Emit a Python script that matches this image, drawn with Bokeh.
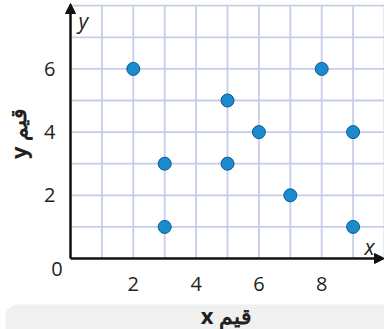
from bokeh.plotting import figure
from bokeh.models import FixedTicker, Label, Arrow, NormalHead, BoxAnnotation, Range1d
from bokeh.embed import file_html
from bokeh.resources import INLINE

# data
x_values = [2, 3, 3, 5, 5, 6, 7, 8, 9, 9]
y_values = [6, 3, 1, 5, 3, 4, 2, 6, 4, 1]
x_ticks = [2, 4, 6, 8]
y_ticks = [2, 4, 6]
grid_x = list(range(1, 11))
grid_y = list(range(1, 9))
x_max, y_max = 10, 8
x_title = "x قيم"
y_title = "y قيم"

PX = 31.4   # pixels per x unit
PY = 31.6   # pixels per y unit
W, H = 384, 329
X0, Y0 = 70, 258  # pixel position of origin

p = figure(width=W, height=H, output_backend="svg", toolbar_location=None,
           x_range=Range1d(-X0 / PX, (W - X0) / PX),
           y_range=Range1d(-(H - Y0) / PY, Y0 / PY),
           min_border=0)
p.outline_line_color = None
p.background_fill_color = "white"
p.border_fill_color = "white"
p.xgrid.visible = False
p.ygrid.visible = False

# gray band behind x title
band = BoxAnnotation(left=-(X0 - 5) / PX, right=x_max + 1, bottom=-5, top=-(304 - Y0) / PY,
                     fill_color="#f0f0f0", fill_alpha=1.0, line_color=None,
                     border_radius=12, level="underlay")
p.add_layout(band)

# grid
grid_color = "#c6cde8"
p.segment(x0=grid_x, y0=[0] * len(grid_x), x1=grid_x, y1=[y_max] * len(grid_x),
          line_color=grid_color, line_width=1.8)
p.segment(x0=[0] * len(grid_y), y0=grid_y, x1=[x_max] * len(grid_y), y1=grid_y,
          line_color=grid_color, line_width=1.8)

# axes fixed at origin, used for tick labels
for ax, ticks in ((p.xaxis, x_ticks), (p.yaxis, y_ticks)):
    ax.ticker = FixedTicker(ticks=ticks)
    ax.fixed_location = 0
    ax.axis_line_color = None
    ax.major_tick_line_color = None
    ax.minor_tick_line_color = None
    ax.major_label_text_font = "Open Sans"
    ax.major_label_text_font_size = "20px"
    ax.major_label_text_color = "#231f20"
p.xaxis.major_label_standoff = 12
p.yaxis.major_label_standoff = 9

# axis arrows
def head():
    return NormalHead(size=10, line_color="#111111", line_width=1, fill_color="#111111")

p.add_layout(Arrow(x_start=0, y_start=0, x_end=0, y_end=(Y0 - 3) / PY,
                   line_color="#111111", line_width=2.5, end=head()))
p.add_layout(Arrow(x_start=0, y_start=0, x_end=(384 - X0) / PX, y_end=0,
                   line_color="#111111", line_width=2.5, end=head()))

p.scatter(x_values, y_values, size=13, fill_color="#1a8bcf", line_color="#0c5a90", line_width=1)

common = dict(text_font="Open Sans", text_color="#231f20")
p.add_layout(Label(x=(78 - X0) / PX, y=(Y0 - 20) / PY, text="y", text_font_size="21px",
                   text_font_style="italic", text_align="left", text_baseline="alphabetic", **common))
p.add_layout(Label(x=(364 - X0) / PX, y=(Y0 - 246) / PY, text="x", text_font_size="21px",
                   text_font_style="italic", text_align="left", text_baseline="alphabetic", **common))
p.add_layout(Label(x=(56.5 - X0) / PX, y=-(268.5 - Y0) / PY, text="0", text_font_size="20px",
                   text_align="center", text_baseline="middle", **common))
p.add_layout(Label(x=(226 - X0) / PX, y=-(314 - Y0) / PY, text=x_title, text_font_size="22px",
                   text_font_style="bold", text_align="center", text_baseline="middle", **common))
p.add_layout(Label(x=(17 - X0) / PX, y=(Y0 - 133) / PY, text=y_title, text_font_size="22px",
                   text_font_style="bold", angle=1.5708, text_align="center",
                   text_baseline="middle", **common))

open("out.html", "w").write(file_html(p, INLINE))
